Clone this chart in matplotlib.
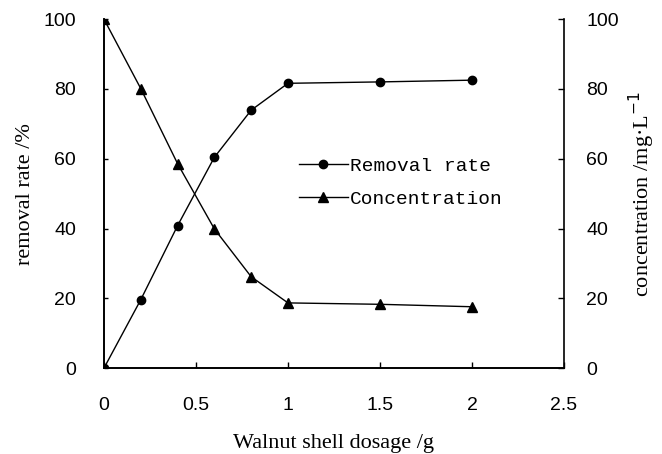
import matplotlib.pyplot as plt
from matplotlib.ticker import MultipleLocator

# Data
dosage = [0, 0.2, 0.4, 0.6, 0.8, 1.0, 1.5, 2.0]
removal_rate = [0, 19.6, 40.8, 60.4, 73.9, 81.6, 82.0, 82.5]
concentration = [100, 80.1, 58.6, 39.9, 26.2, 18.7, 18.3, 17.6]

x_ticks = [0, 0.5, 1, 1.5, 2, 2.5]
x_ticklabels = ['0', '0.5', '1', '1.5', '2', '2.5']

tick_font = 'Liberation Sans'
label_font = 'Liberation Serif'
legend_font = 'Liberation Mono'

fig = plt.figure(figsize=(6.62, 4.54), dpi=100)
ax = fig.add_axes([0.157, 0.189, 0.695, 0.769])
ax2 = ax.twinx()

l1, = ax.plot(dosage, removal_rate, color='black', lw=1.0,
              marker='o', markersize=6, label='Removal rate')
l2, = ax2.plot(dosage, concentration, color='black', lw=1.0,
               marker='^', markersize=7, label='Concentration')

ax.set_xlim(0, 2.5)
ax.set_ylim(0, 100)
ax2.set_ylim(0, 100)
ax.set_xticks(x_ticks)
ax.set_xticklabels(x_ticklabels, fontfamily=tick_font, fontsize=14)
ax.yaxis.set_major_locator(MultipleLocator(20))
ax2.yaxis.set_major_locator(MultipleLocator(20))

for a in (ax, ax2):
    a.spines['top'].set_visible(False)
    for s in a.spines.values():
        s.set_linewidth(1.2)
    for lab in a.get_yticklabels():
        lab.set_fontfamily(tick_font)
        lab.set_fontsize(14)

ax.spines['right'].set_visible(False)
ax.tick_params(axis='x', direction='in', length=4, width=1, pad=21)
ax.tick_params(axis='y', direction='in', length=3, width=1, pad=20)
ax2.tick_params(axis='y', direction='in', length=4, width=1, pad=16)

ax.set_xlabel('Walnut shell dosage /g', fontfamily=label_font, fontsize=16, labelpad=14)
ax.set_ylabel('removal rate /%', fontfamily=label_font, fontsize=16, labelpad=6)
ax2.set_ylabel('concentration /mg·L$^{-1}$', fontfamily=label_font, fontsize=16, labelpad=6)

ax2.legend(handles=[l1, l2], loc='upper left', bbox_to_anchor=(0.424, 0.605),
           frameon=False, numpoints=1, handlelength=2.5, handletextpad=0.1,
           labelspacing=0.8, borderpad=0, borderaxespad=0,
           prop={'family': legend_font, 'size': 14})

fig.savefig('out.png', dpi=100, facecolor='white')
